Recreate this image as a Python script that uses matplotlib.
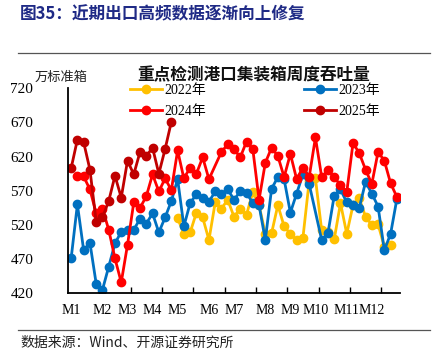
import numpy as np
import matplotlib
matplotlib.use("Agg")
import matplotlib.pyplot as plt
from matplotlib.lines import Line2D

plt.rcParams['font.family'] = ['Liberation Serif', 'Noto Sans CJK SC', 'DejaVu Sans']

N = None
weeks = list(range(53))
month_pos = [0, 5, 9, 13, 17, 22, 26, 31, 35, 39, 44, 48]
month_labels = ["M1", "M2", "M3", "M4", "M5", "M6", "M7", "M8", "M9", "M10", "M11", "M12"]

y2022 = [N]*17 + [530, 507, 509, 538, 531, 498, 553, 544, 557, 532, 544, 535, 568, 549,
                  507, 508, 549, 518, 507, 498, 501, 584, 588, 512, 509, 499, 552, 507,
                  549, 559, 532, 520, 521, 488, 490, N]
y2023 = [471, 550, 483, 494, 434, 425, 459, 493, 510, 512, 513, 529, 522, 537, 509, 531,
         555, 587, 518, 552, 565, 559, 554, 569, 565, 572, 557, 569, 567, 552, 549, 498,
         573, 590, 587, 538, 566, 594, 580, N, 498, 508, 563, 572, 553, 549, 545, 583,
         566, 547, 483, 507, 558]
y2024 = [N, 591, 591, 572, 537, 544, 513, 471, 436, 491, 553, 545, 562, 594, 569, 588,
         571, 629, 588, 604, 595, 619, 587, N, 627, 638, 631, 619, 642, 631, 557, 611,
         633, 621, 590, 624, 587, 604, 590, 648, 590, 600, 590, 578, 568, 640, 625, 601,
         580, 627, 614, 581, 561]
y2025 = [603, 645, 641, 601, 525, 531, 555, 592, 560, 614, 594, 627, 621, 633, 595, 631,
         671] + [N]*36

series = [("2022年", y2022, "#FFC000"),
          ("2023年", y2023, "#0070C0"),
          ("2024年", y2024, "#FF0000"),
          ("2025年", y2025, "#C00000")]

W, H = 441, 352
fig = plt.figure(figsize=(W/100, H/100), dpi=100)
ax = fig.add_axes([68/W, 1-293.3/H, (400-68)/W, (293.3-88.3)/H])

handles = {}
x_arr = np.array(weeks, dtype=float)
for name, vals, col in series:
    v = np.array([np.nan if a is None else a for a in vals], dtype=float)
    m = ~np.isnan(v)
    h, = ax.plot(x_arr[m], v[m], color=col, lw=2.0, marker='o', ms=6,
                 markerfacecolor=col, markeredgecolor=col, label=name)
    handles[name] = h

ax.set_xlim(-0.5, 52.5)
ax.set_ylim(420, 720)
ax.set_yticks(np.arange(420, 721, 50))
ax.tick_params(axis='y', length=0, pad=25, labelsize=11)
ax.set_yticks([720], minor=True)
ax.tick_params(axis='y', which='minor', direction='in', length=4, width=1)
ax.set_xticks(month_pos)
ax.set_xticklabels(month_labels)
ax.set_xticks(np.arange(4.5, 50, 5), minor=True)
ax.tick_params(axis='x', which='major', length=0, pad=8, labelsize=10)
ax.tick_params(axis='x', which='minor', direction='in', length=4, width=1)
for s in ['top', 'right']:
    ax.spines[s].set_visible(False)
for s in ['left', 'bottom']:
    ax.spines[s].set_linewidth(1.3)

order = ["2022年", "2024年", "2023年", "2025年"]
leg = fig.legend([handles[k] for k in order], order, ncol=2, frameon=False,
                 loc='upper left', bbox_to_anchor=(130/W, 1-84/H), fontsize=10,
                 handlelength=2.3, handletextpad=0.15, columnspacing=7.1,
                 labelspacing=0.6, borderpad=0, borderaxespad=0)

fig.text(20/W, 1-14/H, "图35：近期出口高频数据逐渐向上修复", fontsize=12, fontweight='bold',
         color='#1F2A86', ha='left', va='center', family=['Noto Sans CJK SC'])
fig.text(61/W, 1-77/H, "万标准箱", fontsize=9.5, ha='center', va='center',
         family=['Noto Sans CJK SC'], color='#222222')
fig.text(254/W, 1-75/H, "重点检测港口集装箱周度吞吐量", fontsize=12, fontweight='bold',
         ha='center', va='center', family=['Noto Sans CJK SC'], color='#111111')
fig.text(20/W, 1-343/H, "数据来源：Wind、开源证券研究所", fontsize=10, ha='left', va='center',
         family=['Noto Sans CJK SC', 'Liberation Serif'], color='#222222')

fig.add_artist(Line2D([18/W, 430/W], [1-52.5/H, 1-52.5/H], color='#555555', lw=0.9))
fig.add_artist(Line2D([18/W, 430/W], [1-330/H, 1-330/H], color='#555555', lw=0.9))

fig.savefig("out.png", dpi=100)
